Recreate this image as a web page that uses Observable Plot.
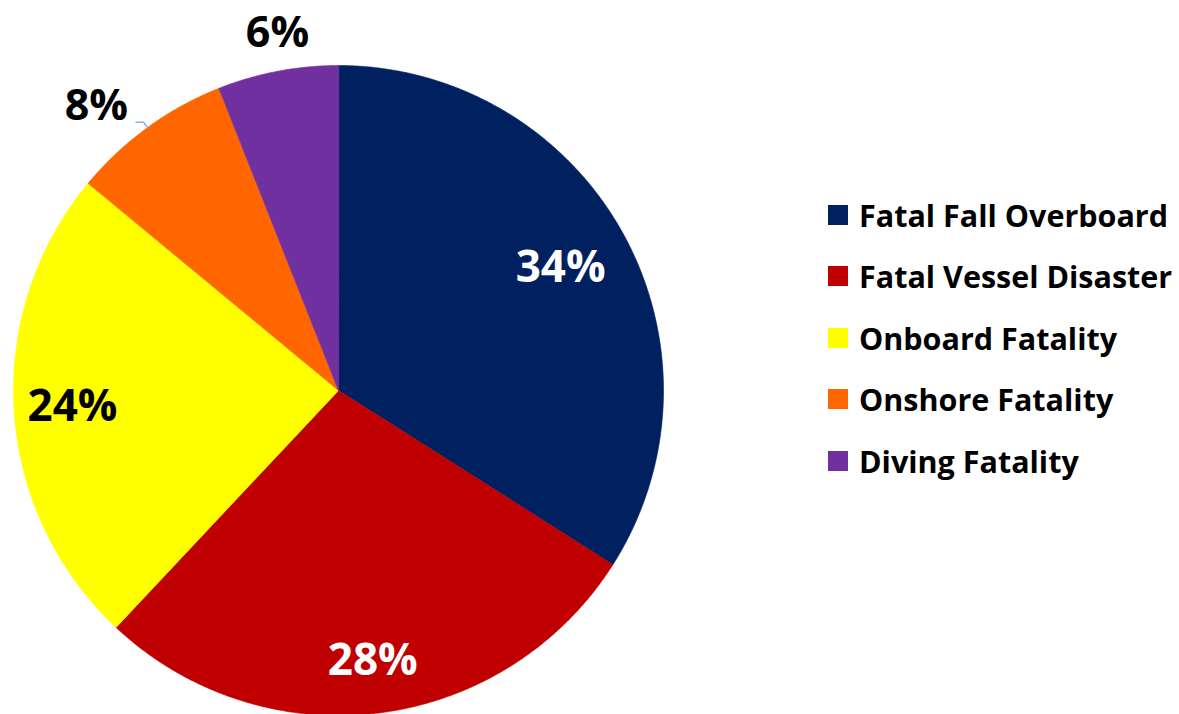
<!DOCTYPE html>
<html>
<head>
<meta charset="utf-8">
<script src="https://cdn.jsdelivr.net/npm/d3@7"></script>
<script src="https://cdn.jsdelivr.net/npm/@observablehq/plot@0.6"></script>
<style>
  html, body { margin: 0; padding: 0; background: #fff; }
  #wrap { position: relative; width: 1179px; height: 714px; overflow: hidden; font-family: "Open Sans", sans-serif; }
  #legend { position: absolute; left: 828px; top: 184px; }
  .item { display: flex; align-items: center; height: 61.5px; font-weight: bold; font-size: 30.5px; color: #000; white-space: nowrap; }
  .sw { width: 20px; height: 20px; margin-right: 11px; flex: none; }
</style>
</head>
<body>
<div id="wrap"><div id="legend"></div></div>
<script>
const categories = ["Fatal Fall Overboard", "Fatal Vessel Disaster", "Onboard Fatality", "Onshore Fatality", "Diving Fatality"];
const shares = [34, 28, 24, 8, 6];
const labels = ["34%", "28%", "24%", "8%", "6%"];
const colors = ["#002060", "#C00000", "#FFFF00", "#FF6600", "#7030A0"];
const labelColors = ["#FFFFFF", "#FFFFFF", "#000000", "#000000", "#000000"];

const arcs = d3.pie().sort(null).value(d => d)(shares);

// slice polygons on the unit circle (angle clockwise from 12 o'clock)
const poly = [];
arcs.forEach((a, i) => {
  poly.push({cat: categories[i], x: 0, y: 0});
  const n = Math.max(4, Math.ceil((a.endAngle - a.startAngle) / 0.005));
  for (let k = 0; k <= n; k++) {
    const t = a.startAngle + (a.endAngle - a.startAngle) * k / n;
    poly.push({cat: categories[i], x: Math.sin(t), y: Math.cos(t)});
  }
});

const lab = arcs.map((a, i) => {
  const m = (a.startAngle + a.endAngle) / 2;
  const small = shares[i] < 10;
  const s = Math.sin(m), c = Math.cos(m);
  const r = small ? (s < -0.3 ? 1.06 : 1.1) : (shares[i] > 30 ? 0.78 : (shares[i] > 25 ? 0.84 : 0.82));
  return {text: labels[i], color: labelColors[i], x: s * r, y: c * r, s, c, small, side: s < -0.3 ? "end" : "middle"};
});

const inside = lab.filter(d => !d.small);
const outEnd = lab.filter(d => d.small && d.side === "end");
const outMid = lab.filter(d => d.small && d.side === "middle");

// leader lines: from slice edge, a short step outward, then horizontal to the label
const leaders = [];
outEnd.forEach((d, i) => {
  leaders.push({k: i, x: d.s, y: d.c});
  leaders.push({k: i, x: d.s * 1.02, y: d.c * 1.02});
  leaders.push({k: i, x: d.x, y: d.c * 1.02});
});

const font = "'Open Sans', sans-serif";

const chart = Plot.plot({
  width: 1179,
  height: 714,
  margin: 0,
  x: {domain: [-1, 1], range: [13, 663], axis: null},
  y: {domain: [-1, 1], range: [715, 65], axis: null},
  color: {domain: categories, range: colors},
  style: {fontFamily: font, background: "transparent"},
  marks: [
    Plot.line(poly, {x: "x", y: "y", z: "cat", fill: "cat", stroke: "cat", strokeWidth: 0.6, curve: "linear-closed"}),
    Plot.line(leaders, {x: "x", y: "y", z: "k", stroke: "#8FAADC", strokeWidth: 1.5}),
    Plot.text(inside, {x: "x", y: "y", text: "text", fill: d => d.color, fontSize: 44, fontWeight: "bold", textAnchor: "middle", lineAnchor: "middle"}),
    Plot.text(outEnd, {x: "x", y: "y", text: "text", fill: d => d.color, fontSize: 43, fontWeight: "bold", textAnchor: "end", lineAnchor: "middle", dx: -8, dy: -6}),
    Plot.text(outMid, {x: "x", y: "y", text: "text", fill: d => d.color, fontSize: 43, fontWeight: "bold", textAnchor: "middle", lineAnchor: "middle", dx: 6, dy: -6})
  ]
});
document.getElementById("wrap").prepend(chart);

const legend = document.getElementById("legend");
categories.forEach((c, i) => {
  const it = document.createElement("div");
  it.className = "item";
  const sw = document.createElement("span");
  sw.className = "sw";
  sw.style.background = colors[i];
  const t = document.createElement("span");
  t.textContent = c;
  it.append(sw, t);
  legend.append(it);
});
</script>
</body>
</html>
